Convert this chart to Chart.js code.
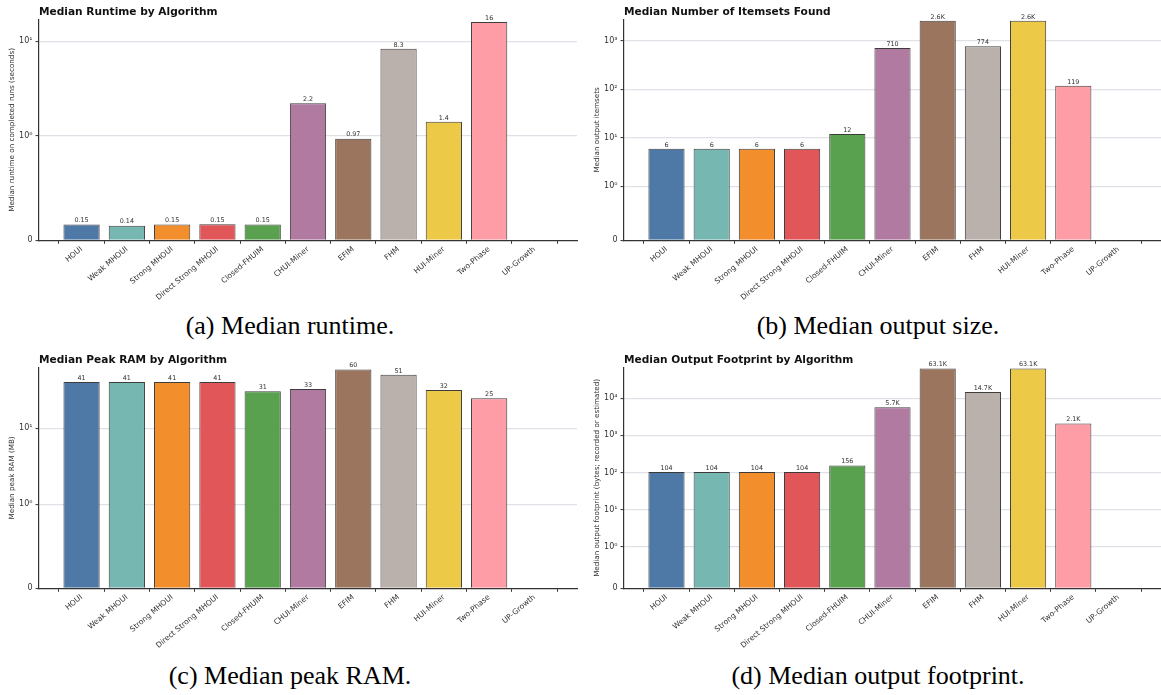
<!DOCTYPE html>
<html>
<head>
<meta charset="utf-8">
<script src="https://cdn.jsdelivr.net/npm/chart.js@4.4.0/dist/chart.umd.min.js"></script>
<style>
  html, body { margin: 0; padding: 0; background: #ffffff; }
  #figure { position: relative; width: 1161px; height: 695px; overflow: hidden; }
  canvas { position: absolute; }
  .caption {
    position: absolute; width: 580px; text-align: center;
    font-family: "Liberation Serif", "Times New Roman", serif;
    font-size: 26px; color: #000; line-height: 30px;
  }
</style>
</head>
<body>
<div id="figure">
  <canvas id="runtime" width="580" height="300" style="left:0px;top:0px"></canvas>
  <canvas id="itemsets" width="581" height="300" style="left:580px;top:0px"></canvas>
  <canvas id="ram" width="580" height="300" style="left:0px;top:348px"></canvas>
  <canvas id="footprint" width="581" height="300" style="left:580px;top:348px"></canvas>
  <div class="caption" style="left:0px;top:311px">(a) Median runtime.</div>
  <div class="caption" style="left:588px;top:311px">(b) Median output size.</div>
  <div class="caption" style="left:0px;top:661px">(c) Median peak RAM.</div>
  <div class="caption" style="left:588px;top:661px">(d) Median output footprint.</div>
</div>
<script>
// Algorithms on the x axis
const algorithms = [
  'HOUI', 'Weak MHOUI', 'Strong MHOUI', 'Direct Strong MHOUI', 'Closed-FHUIM',
  'CHUI-Miner', 'EFIM', 'FHM', 'HUI-Miner', 'Two-Phase', 'UP-Growth'
];

// Median runtime on completed runs (seconds)
const runtimeSeconds = [0.15, 0.14, 0.15, 0.154, 0.15, 2.2, 0.97, 8.3, 1.4, 16, 0];
// Median number of output itemsets
const itemsetsFound = [6, 6, 6, 6, 12, 710, 2600, 774, 2600, 119, 0];
// Median peak RAM (MB)
const peakRamMB = [41, 41, 41, 41, 31, 33, 60, 51, 32, 25, 0];
// Median output footprint (bytes)
const footprintBytes = [104, 104, 104, 104, 156, 5700, 63100, 14700, 63100, 2100, 0];

// Major ticks of the symmetric-log value axis
const symlogTickValues = [0, 1, 10, 100, 1000, 10000];

const barColors = [
  '#4e79a7', '#76b7b2', '#f28e2b', '#e15759', '#59a14f',
  '#b07aa1', '#9c755f', '#bab0ac', '#edc948', '#ff9da7', '#8c8c8c'
];

// ---- symmetric log scale (linear between 0 and 1, log10 above) ----
const LIN_THRESH = 1;
const LIN_SCALE = 1;
const LIN_ADJ = LIN_SCALE / (1 - 1 / 10);
function symFwd(v) {
  const a = Math.abs(v), s = Math.sign(v);
  return a <= LIN_THRESH ? v * LIN_ADJ : s * LIN_THRESH * (LIN_ADJ + Math.log10(a / LIN_THRESH));
}
function symInv(t) {
  const a = Math.abs(t), s = Math.sign(t);
  return a <= LIN_THRESH * LIN_ADJ ? t / LIN_ADJ : s * LIN_THRESH * Math.pow(10, a / LIN_THRESH - LIN_ADJ);
}

class SymlogScale extends Chart.Scale {
  static id = 'symlog';
  static defaults = {};
  parse(raw) {
    const v = +raw;
    return Number.isFinite(v) ? v : null;
  }
  determineDataLimits() {
    const { min, max } = this.getMinMax(true);
    this.min = Number.isFinite(min) ? Math.min(0, min) : 0;
    this.max = Number.isFinite(max) ? max : 1;
  }
  buildTicks() {
    return symlogTickValues.filter(v => v >= this.min && v <= this.max).map(v => ({ value: v }));
  }
  configure() {
    super.configure();
    this._startValue = symFwd(this.min);
    this._valueRange = symFwd(this.max) - this._startValue;
  }
  getLabelForValue(value) { return String(value); }
  getPixelForValue(value) {
    if (value === null || value === undefined || isNaN(value)) return NaN;
    return this.getPixelForDecimal((symFwd(value) - this._startValue) / this._valueRange);
  }
  getValueForPixel(pixel) {
    return symInv(this.getDecimalForPixel(pixel) * this._valueRange + this._startValue);
  }
  getPixelForTick(index) {
    const t = this.ticks;
    if (index < 0 || index > t.length - 1) return null;
    return this.getPixelForValue(t[index].value);
  }
}
Chart.register(SymlogScale);

const SUP = { '0': '\u2070', '1': '\u00b9', '2': '\u00b2', '3': '\u00b3', '4': '\u2074', '5': '\u2075' };
function powerLabel(v) {
  if (v === 0) return '0';
  const e = Math.round(Math.log10(v));
  return '10' + String(e).split('').map(c => SUP[c]).join('');
}
function formatValue(v) {
  if (v >= 1000) return (v / 1000).toFixed(1) + 'K';
  if (v >= 10) return String(Math.round(v));
  return String(Number(v.toPrecision(2)));
}

const FONT = '"DejaVu Sans", Verdana, sans-serif';
const INK = '#333333';
const GRID = '#dfe1e7';

// value printed above every non-empty bar
const valueLabels = {
  id: 'valueLabels',
  afterDatasetsDraw(chart) {
    const { ctx } = chart;
    const meta = chart.getDatasetMeta(0);
    const data = chart.data.datasets[0].data;
    ctx.save();
    ctx.font = '6.4px ' + FONT;
    ctx.fillStyle = INK;
    ctx.textAlign = 'center';
    ctx.textBaseline = 'bottom';
    meta.data.forEach((bar, i) => {
      const v = data[i].y;
      if (v > 0) ctx.fillText(formatValue(v), bar.x, bar.y - 0.6);
    });
    ctx.restore();
  }
};

function drawPanel(canvasId, title, yTitle, values, axisWidth, rightPad) {
  const yMax = Math.max(...values) * 1.06;
  new Chart(document.getElementById(canvasId), {
    type: 'bar',
    data: {
      datasets: [{
        data: values.map((v, i) => ({ x: i, y: v })),
        backgroundColor: barColors,
        borderColor: 'rgba(40,40,40,0.9)',
        borderWidth: 1,
        categoryPercentage: 1.0,
        barPercentage: 0.8
      }]
    },
    options: {
      responsive: false,
      animation: false,
      events: [],
      layout: { padding: { left: 0, right: rightPad, top: 0, bottom: 0 } },
      plugins: {
        legend: { display: false },
        tooltip: { enabled: false },
        title: {
          display: true,
          text: title,
          align: 'start',
          fullSize: false,
          color: '#111111',
          font: { family: FONT, size: 10.6, weight: 'bold', lineHeight: 1.2 },
          padding: { top: 5.9, bottom: 0.9 }
        }
      },
      scales: {
        x: {
          type: 'linear',
          offset: false,
          min: -0.94,
          max: 10.94,
          afterBuildTicks: (scale) => { scale.ticks = algorithms.map((_, i) => ({ value: i })); },
          afterFit: (scale) => { scale.height = 59.7; scale.paddingLeft = 0; scale.paddingRight = 0; },
          ticks: {
            autoSkip: false,
            maxRotation: 40,
            minRotation: 40,
            padding: 1,
            color: INK,
            font: { family: FONT, size: 7.6 },
            callback: (v) => algorithms[v]
          },
          grid: { display: true, drawOnChartArea: false, drawTicks: true, tickLength: 3.5, tickColor: INK, tickWidth: 1 },
          border: { display: true, color: INK, width: 1.2 }
        },
        y: {
          type: 'symlog',
          min: 0,
          max: yMax,
          afterFit: (scale) => { scale.width = axisWidth; scale.paddingTop = 0; scale.paddingBottom = 0; },
          ticks: {
            autoSkip: false,
            padding: 3,
            color: INK,
            font: { family: FONT, size: 8 },
            callback: (v) => powerLabel(v)
          },
          grid: {
            color: (c) => (c.tick && c.tick.value === 0 ? 'rgba(0,0,0,0)' : GRID),
            lineWidth: 1.2,
            drawTicks: true,
            tickLength: 3.5,
            tickColor: INK,
            tickWidth: 1
          },
          border: { display: true, color: INK, width: 1.2 },
          title: {
            display: true,
            text: yTitle,
            color: INK,
            font: { family: FONT, size: 7.2, lineHeight: 1.2 },
            padding: { top: axisWidth === 39 ? 7.5 : 13, bottom: 0 }
          }
        }
      }
    },
    plugins: [valueLabels]
  });
}

drawPanel('runtime', 'Median Runtime by Algorithm',
  'Median runtime on completed runs (seconds)', runtimeSeconds, 39, 3);
drawPanel('itemsets', 'Median Number of Itemsets Found',
  'Median output itemsets', itemsetsFound, 44, 0);
drawPanel('ram', 'Median Peak RAM by Algorithm',
  'Median peak RAM (MB)', peakRamMB, 39, 3);
drawPanel('footprint', 'Median Output Footprint by Algorithm',
  'Median output footprint (bytes; recorded or estimated)', footprintBytes, 44, 0);
</script>
</body>
</html>
